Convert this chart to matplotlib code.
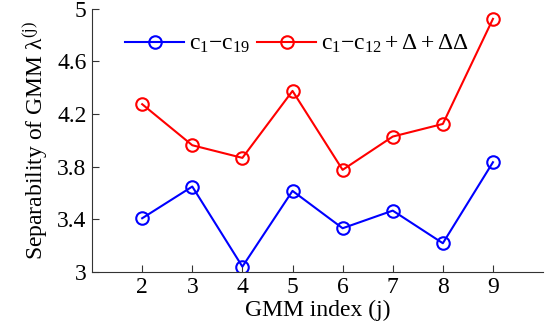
import matplotlib
matplotlib.use("Agg")
import matplotlib.pyplot as plt

gmm_index = [2, 3, 4, 5, 6, 7, 8, 9]
blue_vals = [3.408, 3.649, 3.04, 3.616, 3.332, 3.466, 3.218, 3.834]
red_vals = [4.275, 3.963, 3.867, 4.376, 3.776, 4.029, 4.125, 4.924]
yticks = [3, 3.4, 3.8, 4.2, 4.6, 5]
ytick_labels = ["3", "3.4", "3.8", "4.2", "4.6", "5"]
label_blue = r"$\mathrm{c}_{\mathrm{1}}\mathrm{-c}_{\mathrm{19}}$"
label_red = r"$\mathrm{c}_{\mathrm{1}}\mathrm{-c}_{\mathrm{12}}+\Delta+\Delta\Delta$"

plt.rcParams["font.family"] = ["Liberation Serif", "DejaVu Serif"]
plt.rcParams["mathtext.fontset"] = "custom"
plt.rcParams["mathtext.rm"] = "Liberation Serif"
plt.rcParams["mathtext.it"] = "Liberation Serif:italic"

fig = plt.figure(figsize=(5.48, 3.28), dpi=100)
ax = fig.add_axes([0.168, 0.171, 0.823, 0.802])

ax.plot(gmm_index, blue_vals, color="#0000ff", lw=1.5, marker="o", ms=9,
        mfc="none", mew=1.5, label=label_blue)
ax.plot(gmm_index, red_vals, color="#ff0000", lw=1.5, marker="o", ms=9,
        mfc="none", mew=1.5, label=label_red)

ax.set_xlim(1, 10)
ax.set_ylim(3, 5)
ax.set_xticks(gmm_index)
ax.set_yticks(yticks)
ax.set_yticklabels(ytick_labels)
ax.tick_params(direction="in", labelsize=17, length=5, width=0.8, colors="#333333",
               labelcolor="black", pad=4)
for s in ["top", "right"]:
    ax.spines[s].set_visible(False)
for s in ["left", "bottom"]:
    ax.spines[s].set_color("#333333")

ax.set_xlabel("GMM index (j)", fontsize=17, labelpad=1)
ax.set_ylabel("Separability of GMM λ$^{\\mathrm{(j)}}$", fontsize=17, labelpad=5)

ax.legend(loc="upper left", bbox_to_anchor=(0.042, 0.962), ncol=2, frameon=False,
          fontsize=17, handlelength=2.5, columnspacing=0.3, handletextpad=0.2,
          borderaxespad=0.2)

fig.savefig("out.png", dpi=100)
